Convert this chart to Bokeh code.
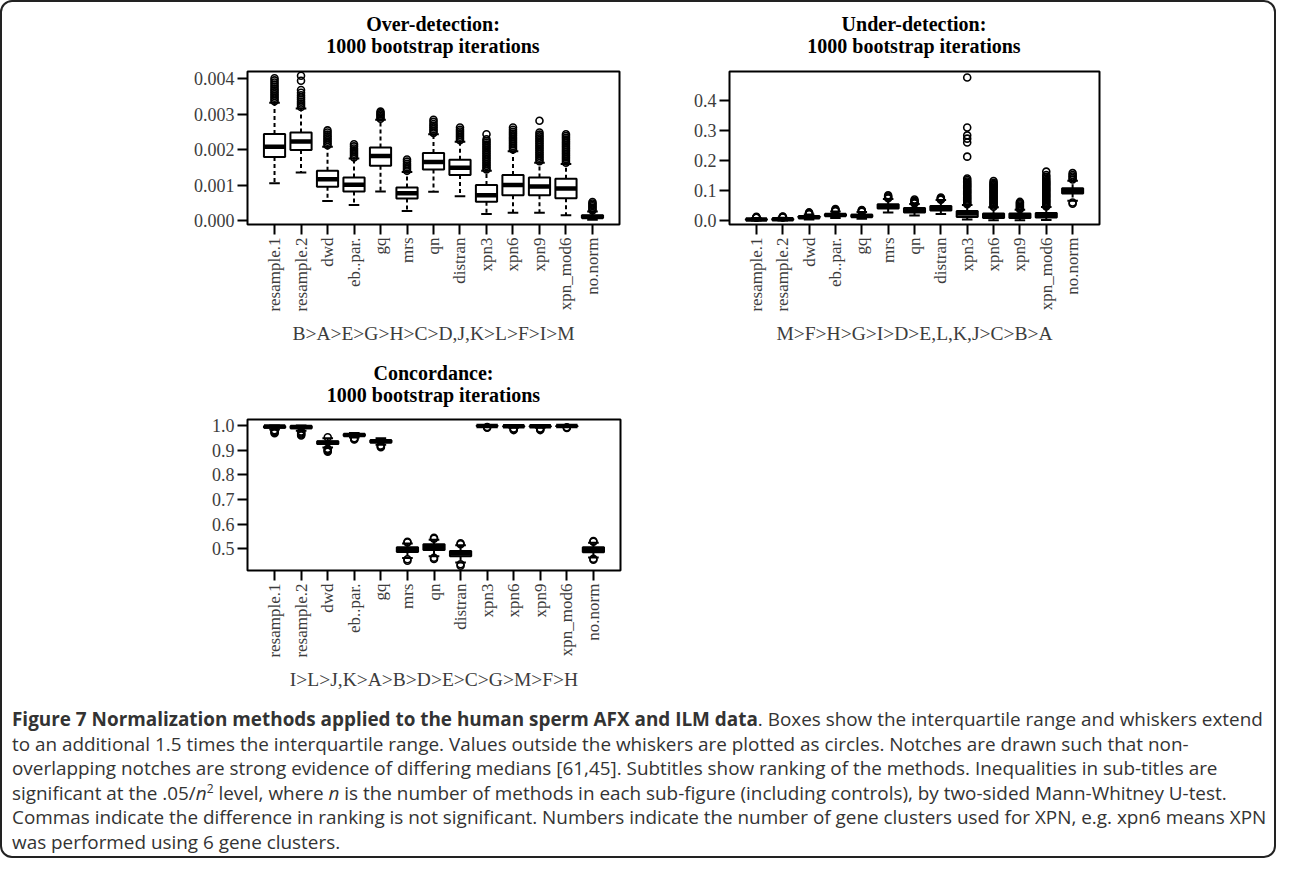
import math
from bokeh.plotting import figure
from bokeh.models import FixedTicker, Range1d, Div, Spacer, NumeralTickFormatter
from bokeh.layouts import column, row
from bokeh.embed import file_html
from bokeh.resources import INLINE

# ---------------- data ----------------
methods = ["resample.1", "resample.2", "dwd", "eb..par.", "gq", "mrs", "qn",
           "distran", "xpn3", "xpn6", "xpn9", "xpn_mod6", "no.norm"]

# Over-detection
over_q1 = [0.00179, 0.00199, 0.00095, 0.00082, 0.00154, 0.00062, 0.00144, 0.00128, 0.00053, 0.00071, 0.00071, 0.00063, 0.00007]
over_med = [0.00208, 0.00223, 0.00116, 0.00101, 0.00182, 0.00077, 0.00165, 0.00149, 0.00071, 0.00100, 0.00096, 0.00090, 0.00010]
over_q3 = [0.00244, 0.00248, 0.00140, 0.00121, 0.00206, 0.00093, 0.00190, 0.00171, 0.00100, 0.00128, 0.00121, 0.00118, 0.00015]
over_lo = [0.00105, 0.00135, 0.00055, 0.00044, 0.00082, 0.00027, 0.00081, 0.00068, 0.00018, 0.00022, 0.00022, 0.00015, 0.00002]
over_hi = [0.00332, 0.00316, 0.00208, 0.00175, 0.00284, 0.00137, 0.00243, 0.00222, 0.00140, 0.00195, 0.00163, 0.00159, 0.00025]
over_out = [
    [0.00336, 0.00341, 0.00346, 0.00351, 0.00356, 0.00361, 0.00366, 0.00371, 0.00377, 0.00383, 0.00389, 0.00395, 0.00401],
    [0.00320, 0.00325, 0.00330, 0.00335, 0.00341, 0.00347, 0.00353, 0.00360, 0.00368, 0.00394, 0.00408],
    [0.00212, 0.00217, 0.00222, 0.00227, 0.00232, 0.00237, 0.00242, 0.00248, 0.00254],
    [0.00178, 0.00183, 0.00188, 0.00193, 0.00198, 0.00203, 0.00209, 0.00215],
    [0.00287, 0.00291, 0.00295, 0.00299, 0.00303, 0.00307],
    [0.00140, 0.00145, 0.00150, 0.00155, 0.00160, 0.00166, 0.00172],
    [0.00247, 0.00252, 0.00257, 0.00262, 0.00267, 0.00272, 0.00278, 0.00284],
    [0.00226, 0.00231, 0.00236, 0.00241, 0.00246, 0.00251, 0.00256, 0.00262],
    [0.00144, 0.00149, 0.00154, 0.00159, 0.00164, 0.00169, 0.00174, 0.00179, 0.00184, 0.00189,
     0.00194, 0.00199, 0.00204, 0.00209, 0.00214, 0.00219, 0.00224, 0.00229, 0.00243],
    [0.00200, 0.00205, 0.00210, 0.00215, 0.00220, 0.00225, 0.00230, 0.00235, 0.00240, 0.00245,
     0.00250, 0.00256, 0.00262],
    [0.00167, 0.00172, 0.00177, 0.00182, 0.00187, 0.00192, 0.00197, 0.00202, 0.00207, 0.00212,
     0.00217, 0.00222, 0.00227, 0.00232, 0.00237, 0.00242, 0.00248, 0.00281],
    [0.00163, 0.00168, 0.00173, 0.00178, 0.00183, 0.00188, 0.00193, 0.00198, 0.00203, 0.00208,
     0.00213, 0.00218, 0.00223, 0.00228, 0.00233, 0.00238, 0.00243],
    [0.00028, 0.00032, 0.00036, 0.00040, 0.00044, 0.00048, 0.00052],
]

# Under-detection
under_q1 = [0.002, 0.002, 0.008, 0.015, 0.012, 0.040, 0.027, 0.033, 0.012, 0.008, 0.008, 0.010, 0.090]
under_med = [0.003, 0.004, 0.011, 0.018, 0.015, 0.047, 0.034, 0.040, 0.023, 0.016, 0.015, 0.018, 0.099]
under_q3 = [0.005, 0.006, 0.014, 0.022, 0.019, 0.054, 0.042, 0.048, 0.032, 0.023, 0.023, 0.025, 0.108]
under_lo = [0.000, 0.000, 0.003, 0.008, 0.006, 0.027, 0.017, 0.022, 0.003, 0.001, 0.001, 0.002, 0.066]
under_hi = [0.008, 0.009, 0.020, 0.030, 0.028, 0.072, 0.055, 0.068, 0.052, 0.044, 0.036, 0.045, 0.133]
under_out = [
    [0.009, 0.010, 0.011, 0.012],
    [0.010, 0.011, 0.012, 0.013],
    [0.021, 0.023, 0.025, 0.027],
    [0.031, 0.033, 0.035, 0.038],
    [0.029, 0.031, 0.033, 0.035],
    [0.074, 0.077, 0.080, 0.084],
    [0.057, 0.060, 0.063, 0.066, 0.070],
    [0.069, 0.071, 0.074, 0.077],
    [0.054, 0.058, 0.062, 0.066, 0.070, 0.074, 0.078, 0.082, 0.086, 0.090, 0.094, 0.098,
     0.102, 0.106, 0.110, 0.114, 0.118, 0.122, 0.126, 0.130, 0.135, 0.140,
     0.213, 0.260, 0.273, 0.284, 0.310, 0.477],
    [0.046, 0.050, 0.054, 0.058, 0.062, 0.066, 0.070, 0.074, 0.078, 0.082, 0.086, 0.090,
     0.094, 0.098, 0.102, 0.106, 0.110, 0.114, 0.118, 0.122, 0.126, 0.132],
    [0.038, 0.042, 0.046, 0.050, 0.054, 0.058, 0.062],
    [0.047, 0.051, 0.055, 0.059, 0.063, 0.067, 0.071, 0.075, 0.079, 0.083, 0.087, 0.091,
     0.095, 0.099, 0.103, 0.107, 0.111, 0.115, 0.119, 0.123, 0.127, 0.131, 0.135, 0.140,
     0.146, 0.152, 0.163],
    [0.137, 0.142, 0.147, 0.152, 0.158, 0.060, 0.056],
]

# Concordance
conc_q1 = [0.990, 0.988, 0.925, 0.957, 0.931, 0.488, 0.496, 0.470, 0.997, 0.994, 0.994, 0.996, 0.487]
conc_med = [0.995, 0.993, 0.930, 0.961, 0.936, 0.497, 0.507, 0.481, 0.998, 0.996, 0.996, 0.998, 0.497]
conc_q3 = [0.998, 0.997, 0.936, 0.965, 0.940, 0.507, 0.519, 0.492, 0.999, 0.998, 0.998, 0.999, 0.507]
conc_lo = [0.983, 0.978, 0.910, 0.951, 0.922, 0.463, 0.470, 0.445, 0.995, 0.990, 0.990, 0.994, 0.465]
conc_hi = [1.000, 1.000, 0.948, 0.969, 0.948, 0.522, 0.537, 0.515, 1.000, 1.000, 1.000, 1.000, 0.525]
conc_out = [
    [0.980, 0.976, 0.972, 0.968],
    [0.975, 0.971, 0.967, 0.963, 0.959],
    [0.905, 0.901, 0.897, 0.893, 0.952],
    [0.948, 0.945, 0.943],
    [0.918, 0.915, 0.912],
    [0.526, 0.529, 0.458, 0.452],
    [0.541, 0.545, 0.464, 0.459],
    [0.519, 0.523, 0.438, 0.432],
    [0.993, 0.991],
    [0.987, 0.984, 0.981],
    [0.987, 0.984, 0.981],
    [0.992, 0.990],
    [0.529, 0.532, 0.460, 0.456],
]

over_ticks = [0.000, 0.001, 0.002, 0.003, 0.004]
under_ticks = [0.0, 0.1, 0.2, 0.3, 0.4]
conc_ticks = [0.5, 0.6, 0.7, 0.8, 0.9, 1.0]

titles_over = ["Over-detection:", "1000 bootstrap iterations"]
titles_under = ["Under-detection:", "1000 bootstrap iterations"]
titles_conc = ["Concordance:", "1000 bootstrap iterations"]

rank_over = "B>A>E>G>H>C>D,J,K>L>F>I>M"
rank_under = "M>F>H>G>I>D>E,L,K,J>C>B>A"
rank_conc = "I>L>J,K>A>B>D>E>C>G>M>F>H"

xpos = list(range(1, len(methods) + 1))

SERIF = "Liberation Serif"
LABEL_COLOR = "#3c3c3c"


def panel(rank, q1, med, q3, lo, hi, out, yr, yticks, fmt,
          fw, fh, mbl, mbr, mbt, mbb):
    p = figure(width=mbl + fw + mbr, height=mbt + fh + mbb, title=None,
               x_range=Range1d(-0.02, len(methods) + 1.02), y_range=Range1d(*yr),
               output_backend="svg", toolbar_location=None,
               min_border_left=mbl, min_border_right=mbr,
               min_border_top=mbt, min_border_bottom=mbb)
    p.grid.visible = False
    p.outline_line_color = "black"
    p.outline_line_width = 2
    p.outline_line_alpha = 1.0
    p.background_fill_color = "white"
    p.border_fill_color = "white"

    # axes
    xa = p.xaxis[0]
    xa.ticker = FixedTicker(ticks=xpos)
    xa.major_label_overrides = {x: m for x, m in zip(xpos, methods)}
    xa.major_label_orientation = math.pi / 2
    ya = p.yaxis[0]
    ya.ticker = FixedTicker(ticks=yticks)
    ya.formatter = NumeralTickFormatter(format=fmt)
    for ax in (xa, ya):
        ax.axis_line_color = None
        ax.major_tick_out = 10
        ax.major_tick_in = 0
        ax.major_tick_line_width = 2
        ax.major_tick_line_color = "black"
        ax.minor_tick_line_color = None
        ax.major_label_text_font = SERIF
        ax.major_label_text_color = LABEL_COLOR
        ax.major_label_standoff = 3
    ya.major_label_text_font_size = "18px"
    xa.major_label_text_font_size = "17px"
    xa.axis_label = rank
    xa.axis_label_text_font = SERIF
    xa.axis_label_text_font_size = "19.5px"
    xa.axis_label_text_font_style = "normal"
    xa.axis_label_text_color = LABEL_COLOR
    xa.axis_label_standoff = 8

    # whiskers
    p.segment(x0=xpos, y0=q3, x1=xpos, y1=hi, line_color="black", line_width=2, line_dash="4 3")
    p.segment(x0=xpos, y0=q1, x1=xpos, y1=lo, line_color="black", line_width=2, line_dash="4 3")
    # boxes
    p.vbar(x=xpos, width=0.8, bottom=q1, top=q3, fill_color="white",
           line_color="black", line_width=2)
    # medians
    p.segment(x0=[x - 0.4 for x in xpos], y0=med, x1=[x + 0.4 for x in xpos], y1=med,
              line_color="black", line_width=4.5)
    # staples
    p.segment(x0=[x - 0.2 for x in xpos], y0=hi, x1=[x + 0.2 for x in xpos], y1=hi,
              line_color="black", line_width=2)
    p.segment(x0=[x - 0.2 for x in xpos], y0=lo, x1=[x + 0.2 for x in xpos], y1=lo,
              line_color="black", line_width=2)
    # outliers
    ox, oy = [], []
    for x, vals in zip(xpos, out):
        for v in vals:
            ox.append(x)
            oy.append(v)
    p.scatter(x=ox, y=oy, marker="circle", size=7, fill_color=None,
              line_color="black", line_width=1.6)
    return p


def title_div(lines, width, height, pad_left, pad_top):
    inner = width - pad_left
    html = ("<div style=\"font-family:'Liberation Serif';font-weight:bold;font-size:20px;"
            "line-height:22px;text-align:center;color:black;white-space:nowrap;"
            f"display:block;box-sizing:content-box;width:{inner}px;"
            f"margin-left:{pad_left}px;padding-top:{pad_top}px;\">"
            + "<br>".join(lines) + "</div>")
    return Div(text=html, width=width, height=height, margin=0)


p1 = panel(rank_over, over_q1, over_med, over_q3, over_lo, over_hi, over_out,
           (-0.000113, 0.0042), over_ticks, "0.000",
           372, 153, 75, 15, 9, 128)
p2 = panel(rank_under, under_q1, under_med, under_q3, under_lo, under_hi, under_out,
           (-0.0133, 0.497), under_ticks, "0.0",
           370, 153, 75, 15, 9, 128)
p3 = panel(rank_conc, conc_q1, conc_med, conc_q3, conc_lo, conc_hi, conc_out,
           (0.4127, 1.0238), conc_ticks, "0.0",
           373, 154, 75, 14, 9, 119)

t1 = title_div(titles_over, 462, 60, 60, 11)
t2 = title_div(titles_under, 460, 60, 60, 11)
t3 = title_div(titles_conc, 462, 58, 61, 10)

caption_lines = [
    "<b>Figure 7 Normalization methods applied to the human sperm AFX and ILM data</b>. Boxes show the interquartile range and whiskers extend",
    "to an additional 1.5 times the interquartile range. Values outside the whiskers are plotted as circles. Notches are drawn such that non-",
    "overlapping notches are strong evidence of differing medians [61,45]. Subtitles show ranking of the methods. Inequalities in sub-titles are",
    "significant at the .05/<i>n</i><sup style='font-size:12px;line-height:0'>2</sup> level, where <i>n</i> is the number of methods in each sub-figure (including controls), by two-sided Mann-Whitney U-test.",
    "Commas indicate the difference in ranking is not significant. Numbers indicate the number of gene clusters used for XPN, e.g. xpn6 means XPN",
    "was performed using 6 gene clusters.",
]
caption_html = ("<div style=\"font-family:'Open Sans';font-size:18.9px;line-height:24.5px;"
                "color:#333;padding:15px 0 0 10px;white-space:nowrap;\">"
                + "<br>".join(caption_lines) + "</div>")
caption = Div(text=caption_html, width=1272, height=164, margin=0)

layout = column(
    row(Spacer(width=170, height=350), column(t1, p1), Spacer(width=20, height=350), column(t2, p2)),
    row(Spacer(width=170, height=340), column(t3, p3)),
    caption,
    styles={"border": "2px solid #222", "border-radius": "12px", "background": "white"},
)

open("out.html", "w").write(file_html(layout, INLINE))
